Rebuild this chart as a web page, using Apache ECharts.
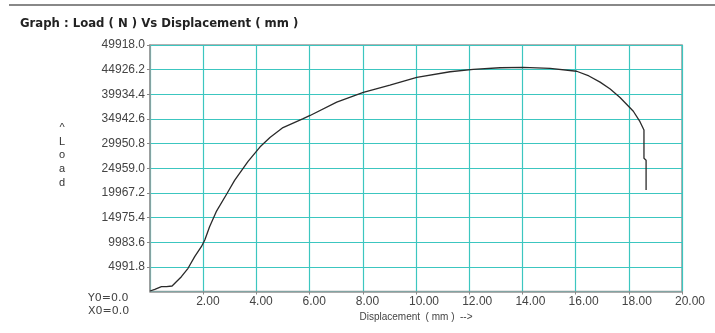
<!DOCTYPE html>
<html>
<head>
<meta charset="utf-8">
<script src="https://cdn.jsdelivr.net/npm/echarts@6/dist/echarts.min.js"></script>
<style>
  html, body { margin: 0; padding: 0; background: #fff; }
  #chart { width: 715px; height: 333px; }
</style>
</head>
<body>
<div id="chart"></div>
<script>
// displacement (mm) and load (N)
const displacement = [
  0, 0.18, 0.43, 0.5, 0.62, 0.83, 0.99, 1.18, 1.43, 1.68, 1.93, 2.06, 2.24, 2.49,
  2.9, 3.18, 3.68, 4.14, 4.51, 5.0, 5.76, 6.02, 7.02, 8.02, 9.02, 10.03, 11.28,
  12.15, 13.16, 14.03, 15.04, 16.04, 16.5, 16.92, 17.3, 17.67, 18.17, 18.42,
  18.57, 18.57, 18.65, 18.65
];
const load = [
  100, 450, 970, 1300, 970, 1110, 1990, 3000, 4700, 7050, 9070, 10430, 13120, 16160,
  19900, 22500, 26290, 29300, 31200, 33200, 35000, 35650, 38350, 40330, 41810, 43370, 44500,
  44970, 45310, 45390, 45190, 44600, 43650, 42400, 41000, 39300, 36500, 34390,
  32700, 26970, 26600, 20550
];
const yStep = 4991.8;
const yMax = 49918;
const xStep = 2;
const xMax = 20;

const points = displacement.map((d, i) => [d, load[i]]);

const chart = echarts.init(document.getElementById('chart'));
const labelFont = { fontFamily: 'Liberation Sans', fontSize: 12, color: '#444' };

chart.setOption({
  animation: false,
  backgroundColor: '#fff',
  grid: {
    left: 150,
    right: 33,
    top: 45,
    bottom: 41.5,
    show: true,
    borderColor: '#999',
    borderWidth: 1.5
  },
  xAxis: {
    type: 'value',
    min: 0,
    max: xMax,
    interval: xStep,
    name: 'Displacement  ( mm )  -->',
    nameLocation: 'middle',
    nameGap: 21,
    nameTextStyle: { ...labelFont, fontSize: 10 },
    axisLine: { show: true, lineStyle: { color: '#999', width: 1.5 } },
    axisTick: { show: true, length: 3, lineStyle: { color: '#888' } },
    axisLabel: {
      ...labelFont,
      margin: 4,
      showMinLabel: false,
      formatter: v => '{t|' + v.toFixed(2) + '}',
      rich: { t: { ...labelFont, width: 14, align: 'left' } }
    },
    splitLine: { show: true, lineStyle: { color: '#3cc6c0', width: 1.2 } }
  },
  yAxis: {
    type: 'value',
    min: 0,
    max: yMax,
    interval: yStep,
    axisLine: { show: true, lineStyle: { color: '#999', width: 1.5 } },
    axisTick: { show: true, length: 3, lineStyle: { color: '#888' } },
    axisLabel: {
      ...labelFont,
      margin: 5,
      showMinLabel: false,
      formatter: v => v.toFixed(1)
    },
    splitLine: { show: true, lineStyle: { color: '#3cc6c0', width: 1.2 } }
  },
  graphic: [
    {
      type: 'line',
      shape: { x1: 9, y1: 5, x2: 715, y2: 5 },
      style: { stroke: '#888', lineWidth: 2 }
    },
    {
      type: 'text',
      left: 20,
      top: 18,
      style: {
        text: 'Graph : Load ( N ) Vs Displacement ( mm )',
        font: 'bold 11.7px "DejaVu Sans"',
        fill: '#222'
      }
    },
    {
      type: 'text',
      x: 62,
      y: 121,
      style: {
        text: '^\nL\no\na\nd',
        font: '11px "Liberation Sans"',
        lineHeight: 13.7,
        align: 'center',
        fill: '#333'
      }
    },
    {
      type: 'text',
      x: 88,
      y: 292,
      style: {
        text: 'Y0=0.0\nX0=0.0',
        font: '11px "DejaVu Sans"',
        lineHeight: 12.5,
        fill: '#444'
      }
    }
  ],
  series: [{
    type: 'line',
    data: points,
    showSymbol: false,
    smooth: false,
    lineStyle: { color: '#2a2a2a', width: 1.3 }
  }]
});
</script>
</body>
</html>
